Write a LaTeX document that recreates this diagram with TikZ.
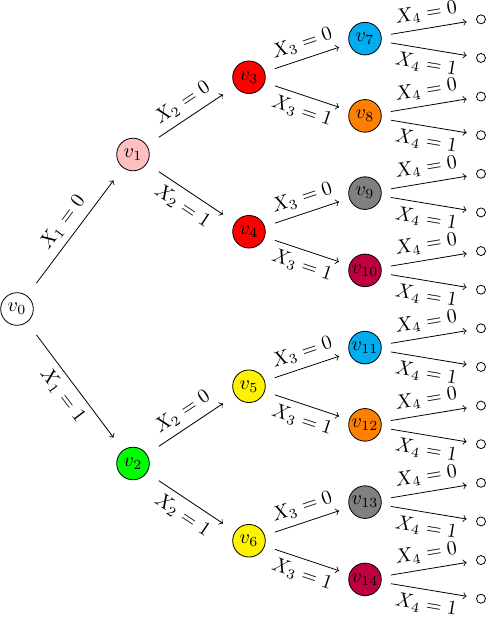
\documentclass[tikz,border=0pt]{standalone}
\usepackage{amsmath,amssymb}
\usepackage{tikz}
\usepackage{xcolor}

\begin{document}
\begin{tikzpicture}[x=1pt,y=1pt,
  box/.style={minimum size=25.5pt,inner sep=0pt},
  leafbox/.style={minimum size=14pt,inner sep=0pt},
  ball/.style={circle,draw,minimum size=16.3pt,inner sep=0.5pt},
  leaf/.style={circle,draw,minimum size=4.5pt,inner sep=0pt}]
\useasboundingbox (0,0) rectangle (244,309);
% vertices: number/level/position/colour
\foreach \n/\l/\j/\c in {0/0/0/white,1/1/0/pink,2/1/1/green,3/2/0/red,4/2/1/red,5/2/2/yellow,6/2/3/yellow,
  7/3/0/cyan,8/3/1/orange,9/3/2/gray,10/3/3/purple,11/3/4/cyan,12/3/5/orange,13/3/6/gray,14/3/7/purple}{
  \pgfmathsetmacro\y{309-(2*\j+1)*309/2^(\l+1)}
  \node[box] (v\n) at (8.5+58*\l,\y) {};
  \node[ball,fill=\c] (b\n) at (v\n) {$v_{\n}$};
}
% leaves
\foreach \i in {0,...,15}{
  \pgfmathsetmacro\y{309-(2*\i+1)*309/32}
  \node[leafbox] (l\i) at (240.5,\y) {};
  \node[leaf] (c\i) at (l\i) {};
}
% inner edges
\foreach \n in {1,...,14}{
  \pgfmathtruncatemacro\p{int((\n-1)/2)}
  \pgfmathtruncatemacro\b{mod(\n-1,2)}
  \pgfmathtruncatemacro\l{floor(ln(\n+1)/ln(2)+0.01)}
  \ifnum\b=0 \def\an{south}\else\def\an{north}\fi
  \draw[->] (v\p) -- node[sloped,anchor=\an] {$X_{\l}=\b$} (v\n);
}
% edges to leaves
\foreach \i in {0,...,15}{
  \pgfmathtruncatemacro\p{7+int(\i/2)}
  \pgfmathtruncatemacro\b{mod(\i,2)}
  \ifnum\b=0 \def\an{south}\else\def\an{north}\fi
  \draw[->] (v\p) -- node[sloped,anchor=\an] {$X_4=\b$} (l\i);
}
\end{tikzpicture}
\end{document}
